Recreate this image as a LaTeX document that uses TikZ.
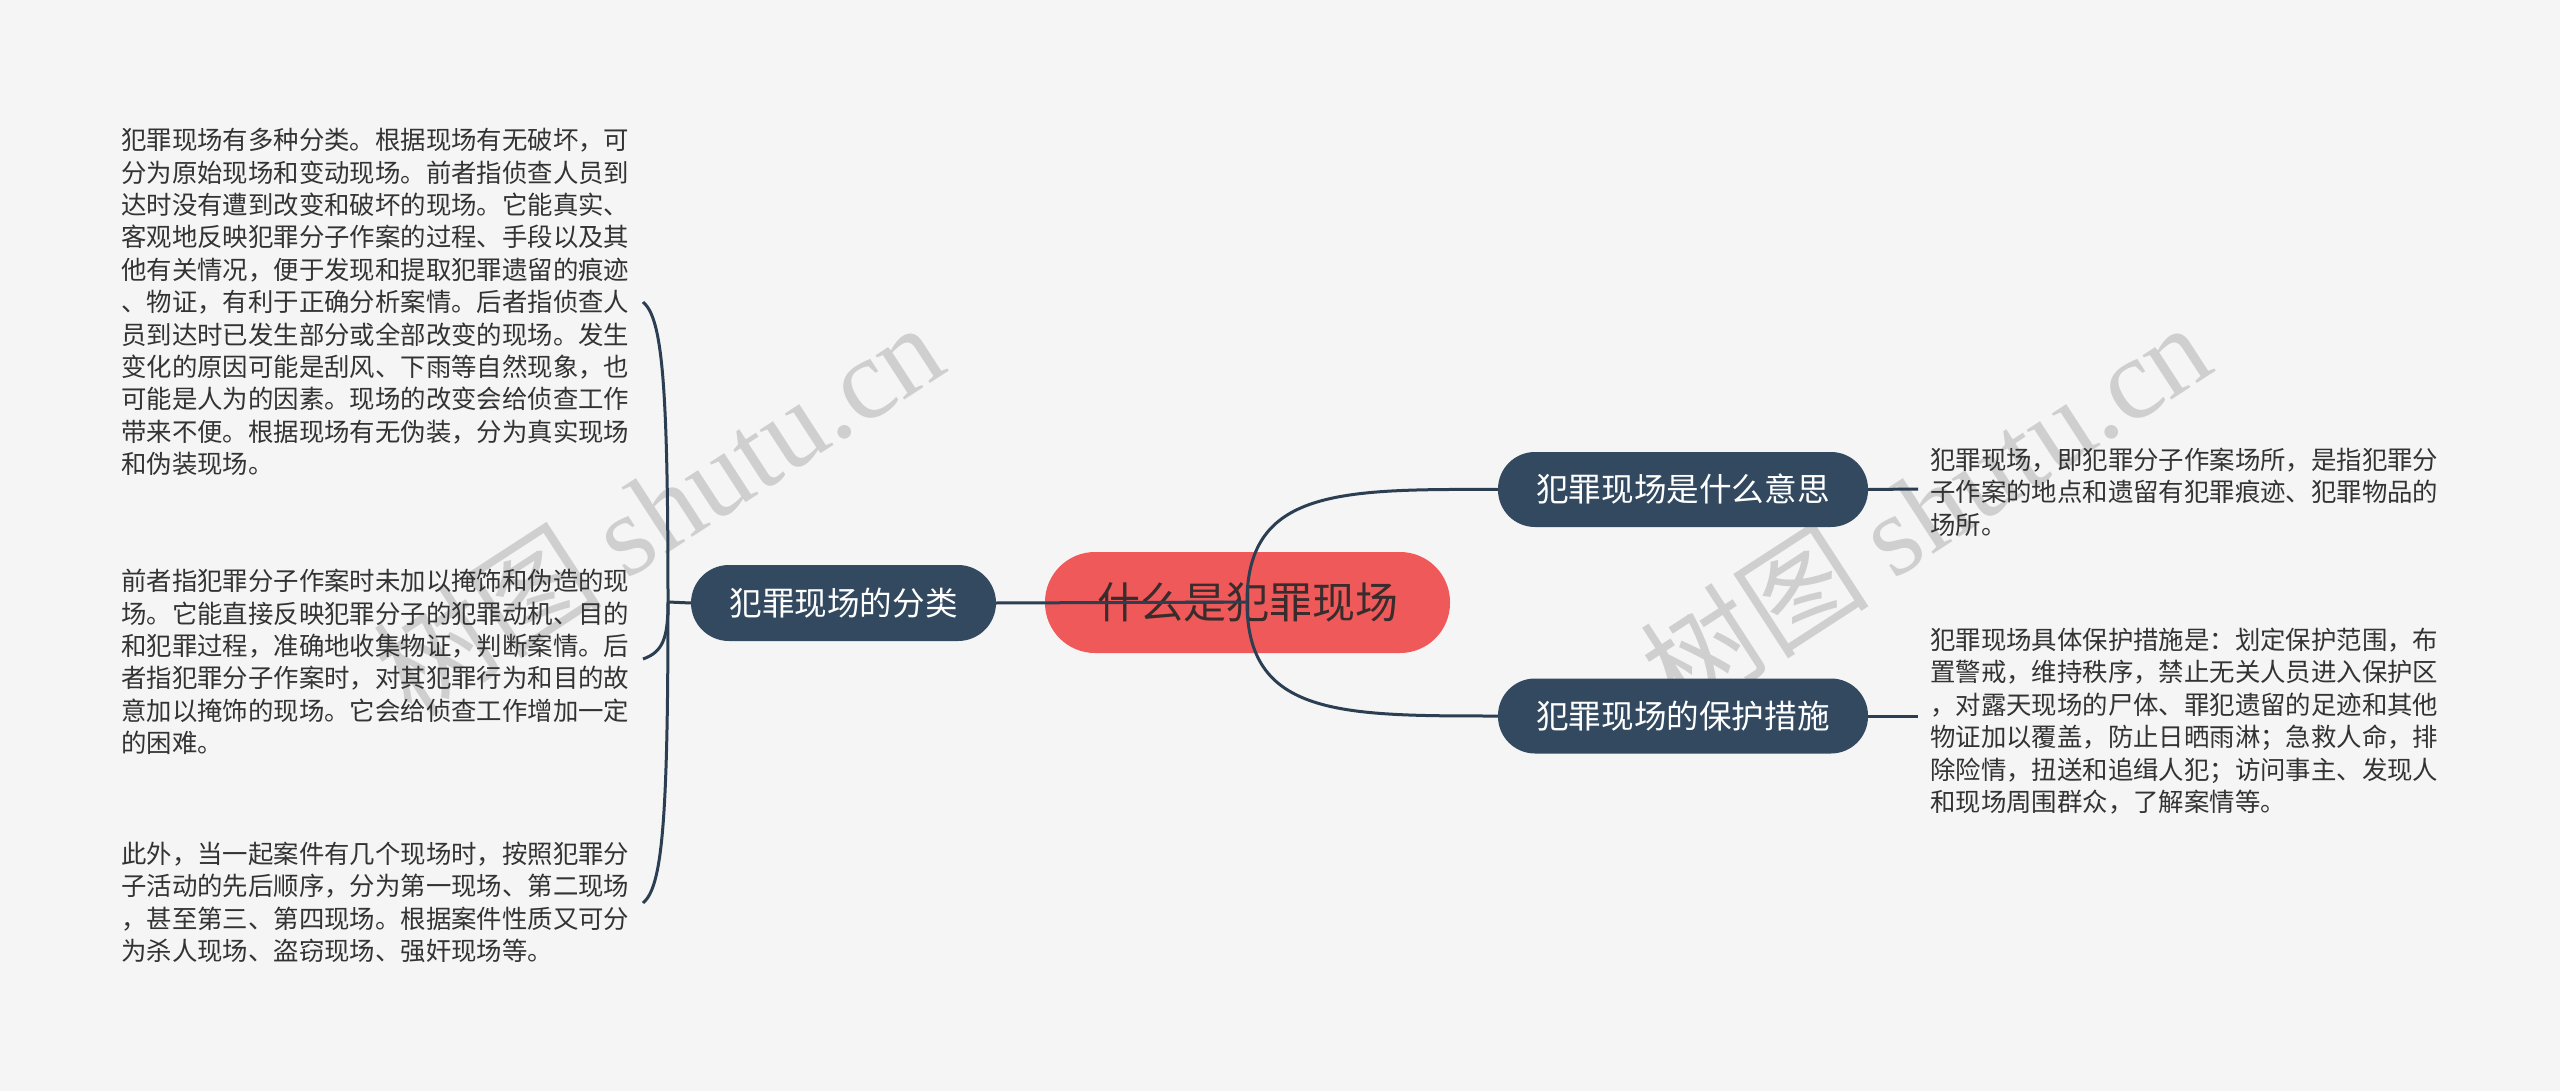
\documentclass[tikz,border=0pt]{standalone}
\usepackage{fontspec}
\setmainfont{Noto Sans CJK SC}
\newfontfamily\wmlatin{Liberation Serif}
\definecolor{bgcol}{HTML}{F5F5F5}
\definecolor{rootred}{HTML}{F0595A}
\definecolor{roottext}{HTML}{3A2C2C}
\definecolor{nodeblue}{HTML}{324960}
\definecolor{linecol}{HTML}{2C3E52}
\definecolor{leafgray}{HTML}{333333}
\definecolor{wmgray}{HTML}{CFCFCF}
\tikzset{
  branch/.style={fill=nodeblue, text=white, rounded corners=37pt, minimum width=370pt,
    minimum height=75pt, inner sep=0pt, font=\fontsize{32.6}{36}\selectfont},
  leaf/.style={anchor=west, align=left, inner sep=0pt, text=leafgray,
    font=\fontsize{25.4}{32.4}\selectfont},
  conn/.style={draw=linecol, line width=3pt},
  wmark/.style={rotate=33, text=wmgray, inner sep=0pt, font=\fontsize{115}{125}\selectfont}
}
\begin{document}
\begin{tikzpicture}[x=1pt,y=-1pt]
\fill[bgcol] (0,0) rectangle (2560,1091);
\useasboundingbox (0,0) rectangle (2560,1091);
% watermarks
\node[wmark] (wm1) at (658,508) {树图 {\wmlatin shutu.cn}};
\node[wmark] (wm2) at (1925,508) {树图 {\wmlatin shutu.cn}};
% nodes
\node[fill=rootred, text=roottext, rounded corners=50pt, minimum width=405pt, minimum height=101pt,
  inner sep=0pt, font=\fontsize{43}{48}\selectfont] (root) at (1247.5,602.5) {什么是犯罪现场};
\node[branch, minimum width=305pt, minimum height=76pt, rounded corners=38pt] (left) at (843.5,603) {犯罪现场的分类};
\node[branch] (r1) at (1683,489.5) {犯罪现场是什么意思};
\node[branch] (r2) at (1683,716) {犯罪现场的保护措施};
% leaves
\node[leaf] (l1) at (121,302) {犯罪现场有多种分类。根据现场有无破坏，可\\分为原始现场和变动现场。前者指侦查人员到\\达时没有遭到改变和破坏的现场。它能真实、\\客观地反映犯罪分子作案的过程、手段以及其\\他有关情况，便于发现和提取犯罪遗留的痕迹\\、物证，有利于正确分析案情。后者指侦查人\\员到达时已发生部分或全部改变的现场。发生\\变化的原因可能是刮风、下雨等自然现象，也\\可能是人为的因素。现场的改变会给侦查工作\\带来不便。根据现场有无伪装，分为真实现场\\和伪装现场。};
\node[leaf] (l2) at (121,662) {前者指犯罪分子作案时未加以掩饰和伪造的现\\场。它能直接反映犯罪分子的犯罪动机、目的\\和犯罪过程，准确地收集物证，判断案情。后\\者指犯罪分子作案时，对其犯罪行为和目的故\\意加以掩饰的现场。它会给侦查工作增加一定\\的困难。};
\node[leaf] (l3) at (121,902.5) {此外，当一起案件有几个现场时，按照犯罪分\\子活动的先后顺序，分为第一现场、第二现场\\，甚至第三、第四现场。根据案件性质又可分\\为杀人现场、盗窃现场、强奸现场等。};
\node[leaf] (t1) at (1930,492) {犯罪现场，即犯罪分子作案场所，是指犯罪分\\子作案的地点和遗留有犯罪痕迹、犯罪物品的\\场所。};
\node[leaf] (t2) at (1930,721) {犯罪现场具体保护措施是：划定保护范围，布\\置警戒，维持秩序，禁止无关人员进入保护区\\，对露天现场的尸体、罪犯遗留的足迹和其他\\物证加以覆盖，防止日晒雨淋；急救人命，排\\除险情，扭送和追缉人犯；访问事主、发现人\\和现场周围群众，了解案情等。};
% connector points
\coordinate (rc) at (1247,602);
\coordinate (lb) at (668,602);
\coordinate (e1) at (643,302);
\coordinate (e2) at (643,659);
\coordinate (e3) at (643,903);
\coordinate (re1) at (1918,489);
\coordinate (re2) at (1918,716);
% connectors
\draw[conn] (rc) -- (left.east);
\draw[conn] (rc) .. controls (1247,489) and (1340,489) .. (r1.west);
\draw[conn] (rc) .. controls (1247,716) and (1340,716) .. (r2.west);
\draw[conn] (left.west) -- (lb);
\draw[conn] (lb) .. controls (668,380) and (662,318) .. (e1);
\draw[conn] (lb) .. controls (668,638) and (663,652) .. (e2);
\draw[conn] (lb) .. controls (668,824) and (662,887) .. (e3);
\draw[conn] (r1.east) -- (re1);
\draw[conn] (r2.east) -- (re2);
\end{tikzpicture}
\end{document}
